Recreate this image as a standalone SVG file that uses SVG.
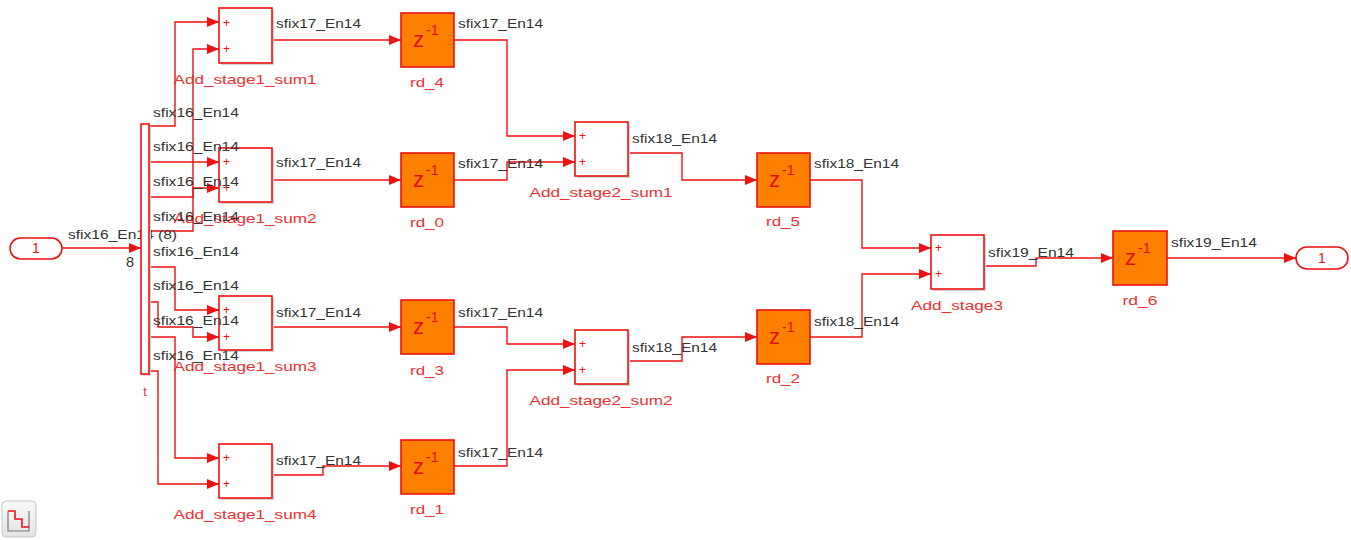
<svg xmlns="http://www.w3.org/2000/svg" width="1351" height="540" viewBox="0 0 1351 540">
<style>
.w{fill:none;stroke:#ee1111;stroke-width:1.4}
.blk{fill:#fff;stroke:#ee1111;stroke-width:1.6}
.sh{fill:#d4d4d4;stroke:none}
.dl{fill:#ff8000;stroke:#ee1111;stroke-width:1.6}
.lb{font-family:"Liberation Sans",Arial,sans-serif;font-size:12.5px;fill:#333}
.nm{font-family:"Liberation Sans",Arial,sans-serif;font-size:13px;fill:#f03030;text-anchor:middle}
.pl{font-family:"Liberation Sans",Arial,sans-serif;font-size:12px;fill:#ee1111}
.z{font-family:"Liberation Sans",Arial,sans-serif;fill:#e01010}
.pt{font-family:"Liberation Sans",Arial,sans-serif;font-size:14px;fill:#ee1111;text-anchor:middle}
</style>
<defs>
<marker id="ar" markerUnits="userSpaceOnUse" markerWidth="12" markerHeight="10" refX="12" refY="5" orient="auto">
<path d="M0,0 L12,5 L0,10 z" fill="#ee1111"/>
</marker>
<linearGradient id="ig" x1="0" y1="0" x2="0" y2="1"><stop offset="0" stop-color="#fafafa"/><stop offset="1" stop-color="#e2e2e2"/></linearGradient>
</defs>
<rect width="1351" height="540" fill="#fff"/>

<g id="connectors">
<path class="w" marker-end="url(#ar)" d="M62,248 H141"/>
<path class="w" marker-end="url(#ar)" d="M149,126 H175 V22 H219"/>
<path class="w" marker-end="url(#ar)" d="M149,231 H193 V49 H219"/>
<path class="w" marker-end="url(#ar)" d="M149,162 H219"/>
<path class="w" marker-end="url(#ar)" d="M149,197 H193 V188 H219"/>
<path class="w" marker-end="url(#ar)" d="M149,267 H175 V310 H219"/>
<path class="w" marker-end="url(#ar)" d="M149,302 H158 V327 H193 V337 H219"/>
<path class="w" marker-end="url(#ar)" d="M149,337 H175 V458 H219"/>
<path class="w" marker-end="url(#ar)" d="M149,371 H158 V484 H219"/>
<path class="w" marker-end="url(#ar)" d="M272,40 H401"/>
<path class="w" marker-end="url(#ar)" d="M272,180 H401"/>
<path class="w" marker-end="url(#ar)" d="M272,327 H401"/>
<path class="w" marker-end="url(#ar)" d="M272,475 H323 V466 H401"/>
<path class="w" marker-end="url(#ar)" d="M454,40 H507 V136 H575"/>
<path class="w" marker-end="url(#ar)" d="M454,180 H507 V162 H575"/>
<path class="w" marker-end="url(#ar)" d="M454,327 H507 V344 H575"/>
<path class="w" marker-end="url(#ar)" d="M454,466 H507 V370 H575"/>
<path class="w" marker-end="url(#ar)" d="M628,153 H682 V180 H757"/>
<path class="w" marker-end="url(#ar)" d="M628,361 H682 V337 H757"/>
<path class="w" marker-end="url(#ar)" d="M810,180 H862 V248 H931"/>
<path class="w" marker-end="url(#ar)" d="M810,337 H862 V274 H931"/>
<path class="w" marker-end="url(#ar)" d="M984,266 H1036 V258 H1113"/>
<path class="w" marker-end="url(#ar)" d="M1167,258 H1296"/>
</g>

<g id="input_label">
<text x="68" y="239" class="lb" textLength="109" lengthAdjust="spacingAndGlyphs">sfix16_En14 (8)</text>
<text x="126" y="267" class="lb" style="font-size:14.5px">8</text>
</g>

<g id="in_port">
<rect x="10" y="238" width="52" height="21" rx="10.5" class="blk"/>
<text x="36" y="253" class="pt">1</text>
</g>

<g id="demux_t">
<rect x="143" y="126" width="8" height="250" class="sh"/>
<rect x="141" y="124" width="8" height="250" class="blk"/>
<text x="145" y="396" class="nm">t</text>
</g>

<g id="Add_stage1_sum1">
<rect x="221" y="10" width="53" height="55" class="sh"/>
<rect x="219" y="8" width="53" height="55" class="blk"/>
<text x="223" y="27" class="pl">+</text><text x="223" y="53" class="pl">+</text>
<text x="245" y="84" class="nm" textLength="143" lengthAdjust="spacingAndGlyphs">Add_stage1_sum1</text>
</g>
<g id="Add_stage1_sum2">
<rect x="221" y="150" width="53" height="54" class="sh"/>
<rect x="219" y="148" width="53" height="54" class="blk"/>
<text x="223" y="166" class="pl">+</text><text x="223" y="192" class="pl">+</text>
<text x="245" y="223" class="nm" textLength="143" lengthAdjust="spacingAndGlyphs">Add_stage1_sum2</text>
</g>
<g id="Add_stage1_sum3">
<rect x="221" y="298" width="53" height="54" class="sh"/>
<rect x="219" y="296" width="53" height="54" class="blk"/>
<text x="223" y="314" class="pl">+</text><text x="223" y="341" class="pl">+</text>
<text x="245" y="371" class="nm" textLength="143" lengthAdjust="spacingAndGlyphs">Add_stage1_sum3</text>
</g>
<g id="Add_stage1_sum4">
<rect x="221" y="446" width="53" height="54" class="sh"/>
<rect x="219" y="444" width="53" height="54" class="blk"/>
<text x="223" y="462" class="pl">+</text><text x="223" y="488" class="pl">+</text>
<text x="245" y="519" class="nm" textLength="143" lengthAdjust="spacingAndGlyphs">Add_stage1_sum4</text>
</g>

<g id="rd_4">
<rect x="401" y="13" width="53" height="54" class="dl"/>
<text x="413" y="47" class="z" font-size="22">z</text><text x="426" y="35" class="z" font-size="14">-1</text>
<text x="427" y="87" class="nm" textLength="34" lengthAdjust="spacingAndGlyphs">rd_4</text>
</g>
<g id="rd_0">
<rect x="401" y="153" width="53" height="54" class="dl"/>
<text x="413" y="187" class="z" font-size="22">z</text><text x="426" y="175" class="z" font-size="14">-1</text>
<text x="427" y="227" class="nm" textLength="34" lengthAdjust="spacingAndGlyphs">rd_0</text>
</g>
<g id="rd_3">
<rect x="401" y="300" width="53" height="54" class="dl"/>
<text x="413" y="334" class="z" font-size="22">z</text><text x="426" y="322" class="z" font-size="14">-1</text>
<text x="427" y="375" class="nm" textLength="34" lengthAdjust="spacingAndGlyphs">rd_3</text>
</g>
<g id="rd_1">
<rect x="401" y="440" width="53" height="54" class="dl"/>
<text x="413" y="474" class="z" font-size="22">z</text><text x="426" y="462" class="z" font-size="14">-1</text>
<text x="427" y="514" class="nm" textLength="34" lengthAdjust="spacingAndGlyphs">rd_1</text>
</g>

<g id="Add_stage2_sum1">
<rect x="577" y="124" width="53" height="54" class="sh"/>
<rect x="575" y="122" width="53" height="54" class="blk"/>
<text x="579" y="140" class="pl">+</text><text x="579" y="166" class="pl">+</text>
<text x="601" y="197" class="nm" textLength="143" lengthAdjust="spacingAndGlyphs">Add_stage2_sum1</text>
</g>
<g id="Add_stage2_sum2">
<rect x="577" y="332" width="53" height="54" class="sh"/>
<rect x="575" y="330" width="53" height="54" class="blk"/>
<text x="579" y="348" class="pl">+</text><text x="579" y="374" class="pl">+</text>
<text x="601" y="405" class="nm" textLength="143" lengthAdjust="spacingAndGlyphs">Add_stage2_sum2</text>
</g>

<g id="rd_5">
<rect x="757" y="153" width="53" height="54" class="dl"/>
<text x="769" y="187" class="z" font-size="22">z</text><text x="782" y="175" class="z" font-size="14">-1</text>
<text x="783" y="226" class="nm" textLength="34" lengthAdjust="spacingAndGlyphs">rd_5</text>
</g>
<g id="rd_2">
<rect x="757" y="310" width="53" height="54" class="dl"/>
<text x="769" y="344" class="z" font-size="22">z</text><text x="782" y="332" class="z" font-size="14">-1</text>
<text x="783" y="383" class="nm" textLength="34" lengthAdjust="spacingAndGlyphs">rd_2</text>
</g>

<g id="Add_stage3">
<rect x="933" y="237" width="53" height="54" class="sh"/>
<rect x="931" y="235" width="53" height="54" class="blk"/>
<text x="935" y="252" class="pl">+</text><text x="935" y="278" class="pl">+</text>
<text x="957" y="310" class="nm" textLength="92" lengthAdjust="spacingAndGlyphs">Add_stage3</text>
</g>

<g id="rd_6">
<rect x="1113" y="231" width="54" height="54" class="dl"/>
<text x="1125" y="265" class="z" font-size="22">z</text><text x="1138" y="253" class="z" font-size="14">-1</text>
<text x="1140" y="305" class="nm" textLength="35" lengthAdjust="spacingAndGlyphs">rd_6</text>
</g>

<g id="out_port">
<rect x="1296" y="247" width="52" height="22" rx="11" class="blk"/>
<text x="1322" y="263" class="pt">1</text>
</g>

<g id="signal_labels">
<text x="153" y="117" class="lb" textLength="86" lengthAdjust="spacingAndGlyphs">sfix16_En14</text>
<text x="153" y="151" class="lb" textLength="86" lengthAdjust="spacingAndGlyphs">sfix16_En14</text>
<text x="153" y="186" class="lb" textLength="86" lengthAdjust="spacingAndGlyphs">sfix16_En14</text>
<text x="153" y="221" class="lb" textLength="86" lengthAdjust="spacingAndGlyphs">sfix16_En14</text>
<text x="153" y="256" class="lb" textLength="86" lengthAdjust="spacingAndGlyphs">sfix16_En14</text>
<text x="153" y="290" class="lb" textLength="86" lengthAdjust="spacingAndGlyphs">sfix16_En14</text>
<text x="153" y="325" class="lb" textLength="86" lengthAdjust="spacingAndGlyphs">sfix16_En14</text>
<text x="153" y="360" class="lb" textLength="86" lengthAdjust="spacingAndGlyphs">sfix16_En14</text>
<text x="276" y="28" class="lb" textLength="85" lengthAdjust="spacingAndGlyphs">sfix17_En14</text>
<text x="276" y="167" class="lb" textLength="85" lengthAdjust="spacingAndGlyphs">sfix17_En14</text>
<text x="276" y="317" class="lb" textLength="85" lengthAdjust="spacingAndGlyphs">sfix17_En14</text>
<text x="276" y="465" class="lb" textLength="85" lengthAdjust="spacingAndGlyphs">sfix17_En14</text>
<text x="458" y="28" class="lb" textLength="85" lengthAdjust="spacingAndGlyphs">sfix17_En14</text>
<text x="458" y="168" class="lb" textLength="85" lengthAdjust="spacingAndGlyphs">sfix17_En14</text>
<text x="458" y="317" class="lb" textLength="85" lengthAdjust="spacingAndGlyphs">sfix17_En14</text>
<text x="458" y="457" class="lb" textLength="85" lengthAdjust="spacingAndGlyphs">sfix17_En14</text>
<text x="632" y="143" class="lb" textLength="85" lengthAdjust="spacingAndGlyphs">sfix18_En14</text>
<text x="632" y="352" class="lb" textLength="85" lengthAdjust="spacingAndGlyphs">sfix18_En14</text>
<text x="814" y="168" class="lb" textLength="85" lengthAdjust="spacingAndGlyphs">sfix18_En14</text>
<text x="814" y="326" class="lb" textLength="85" lengthAdjust="spacingAndGlyphs">sfix18_En14</text>
<text x="988" y="257" class="lb" textLength="86" lengthAdjust="spacingAndGlyphs">sfix19_En14</text>
<text x="1171" y="247" class="lb" textLength="86" lengthAdjust="spacingAndGlyphs">sfix19_En14</text>
</g>

<g id="sample_time_icon">
<rect x="2" y="501" width="34" height="36" rx="4" fill="url(#ig)" stroke="#c8c8c8" stroke-width="1"/>
<path d="M8,511 V531 H29 V511" fill="none" stroke="#777" stroke-width="1.2"/>
<path d="M8,511 H15 V519 H22 V527 H29" fill="none" stroke="#ee1111" stroke-width="1.6"/>
</g>
</svg>
